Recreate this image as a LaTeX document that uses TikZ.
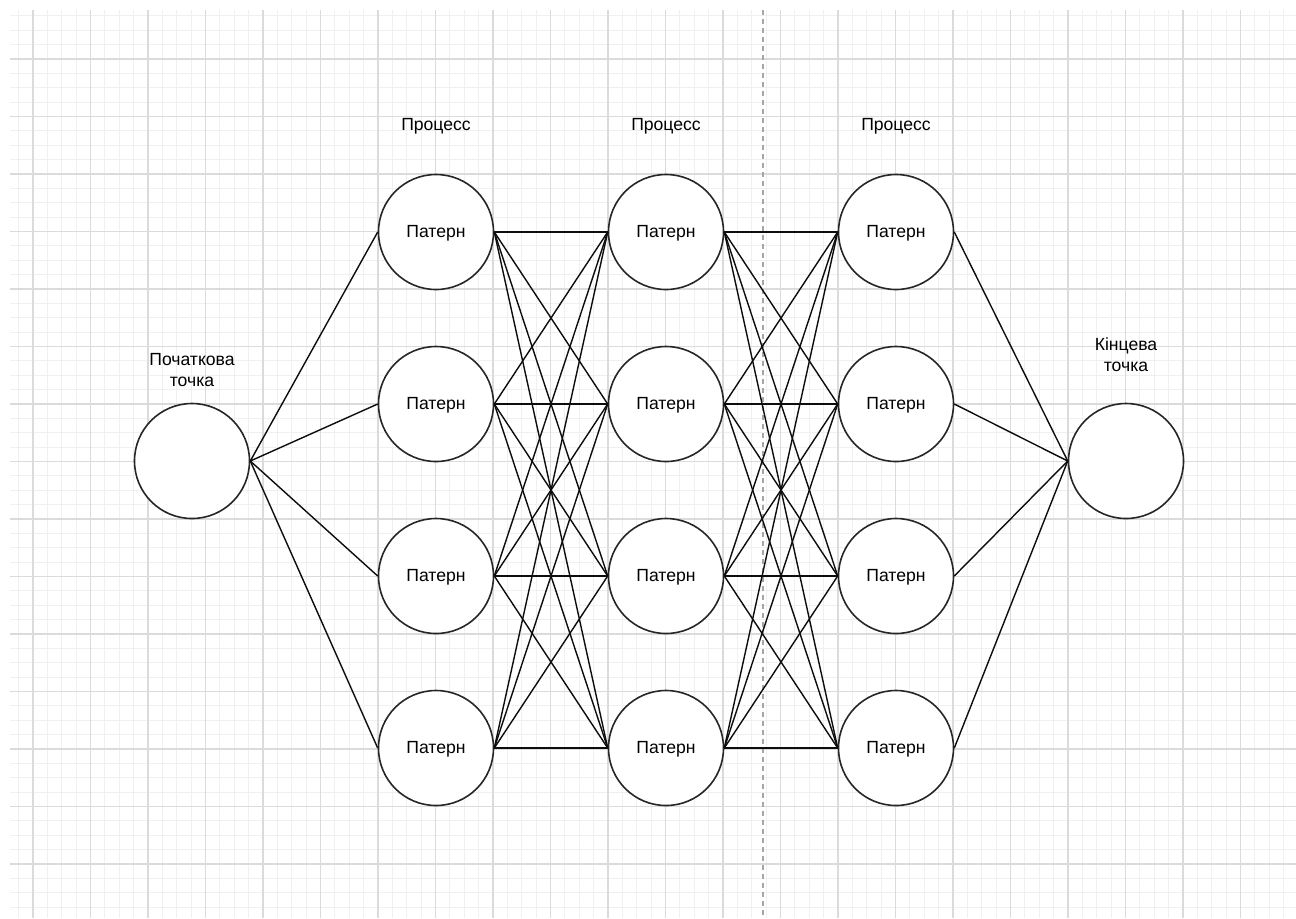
\documentclass[tikz,border=0pt]{standalone}
\usepackage{fontspec}
\setmainfont{Liberation Sans}
\begin{document}
\begin{tikzpicture}[x=0.5pt,y=-0.5pt,
  minorline/.style={draw=black!6,line width=0.6pt},
  majorline/.style={draw=black!14,line width=0.6pt},
  sepline/.style={draw=black!35,line width=0.6pt,dash pattern=on 2.5pt off 2pt},
  pnode/.style={circle,draw=black!85,fill=white,line width=0.8pt,minimum size=57.5pt,inner sep=0pt,font=\fontsize{8.8}{10.5}\selectfont},
  lbl/.style={align=center,inner sep=0pt,font=\fontsize{8.8}{10.5}\selectfont},
  conn/.style={draw=black!95,line width=0.7pt}]
\useasboundingbox (0,0) rectangle (1296,918);
\fill[white] (0,0) rectangle (1296,918);
% grid
\foreach \i in {-1,...,87}{\draw[minorline] ({33+14.375*\i},10) -- ({33+14.375*\i},918);}
\foreach \j in {-3,...,59}{\draw[minorline] (10,{59+14.375*\j}) -- (1296,{59+14.375*\j});}
\foreach \i in {0,...,21}{\draw[majorline] ({33+57.5*\i},10) -- ({33+57.5*\i},918);}
\foreach \j in {0,...,14}{\draw[majorline] (10,{59+57.5*\j}) -- (1296,{59+57.5*\j});}
\coordinate (dtop) at (763,10);
\coordinate (dbot) at (763,918);
\draw[sepline] (dtop) -- (dbot);
% labels
\node[lbl] (p1) at (436,126) {Процесс};
\node[lbl] (p2) at (666,126) {Процесс};
\node[lbl] (p3) at (896,126) {Процесс};
\node[lbl] (sl) at (192,370) {Початкова\\точка};
\node[lbl] (el) at (1126,355) {Кінцева\\точка};
% nodes
\node[pnode] (s) at (192,461) {};
\node[pnode] (e) at (1126,461) {};
\foreach \c/\x in {a/436,b/666,c/896}{
  \foreach \r/\y in {1/232,2/404,3/576,4/748}{
    \node[pnode] (\c\r) at (\x,\y) {};
    \node[lbl] (\c\r t) at (\x,\y+1.5) {Патерн};
  }
}
% connectors
\foreach \r in {1,...,4}{
  \draw[conn] (s.east) -- (a\r.west);
  \draw[conn] (c\r.east) -- (e.west);
  \foreach \q in {1,...,4}{
    \draw[conn] (a\r.east) -- (b\q.west);
    \draw[conn] (b\r.east) -- (c\q.west);
  }
}
\end{tikzpicture}
\end{document}
